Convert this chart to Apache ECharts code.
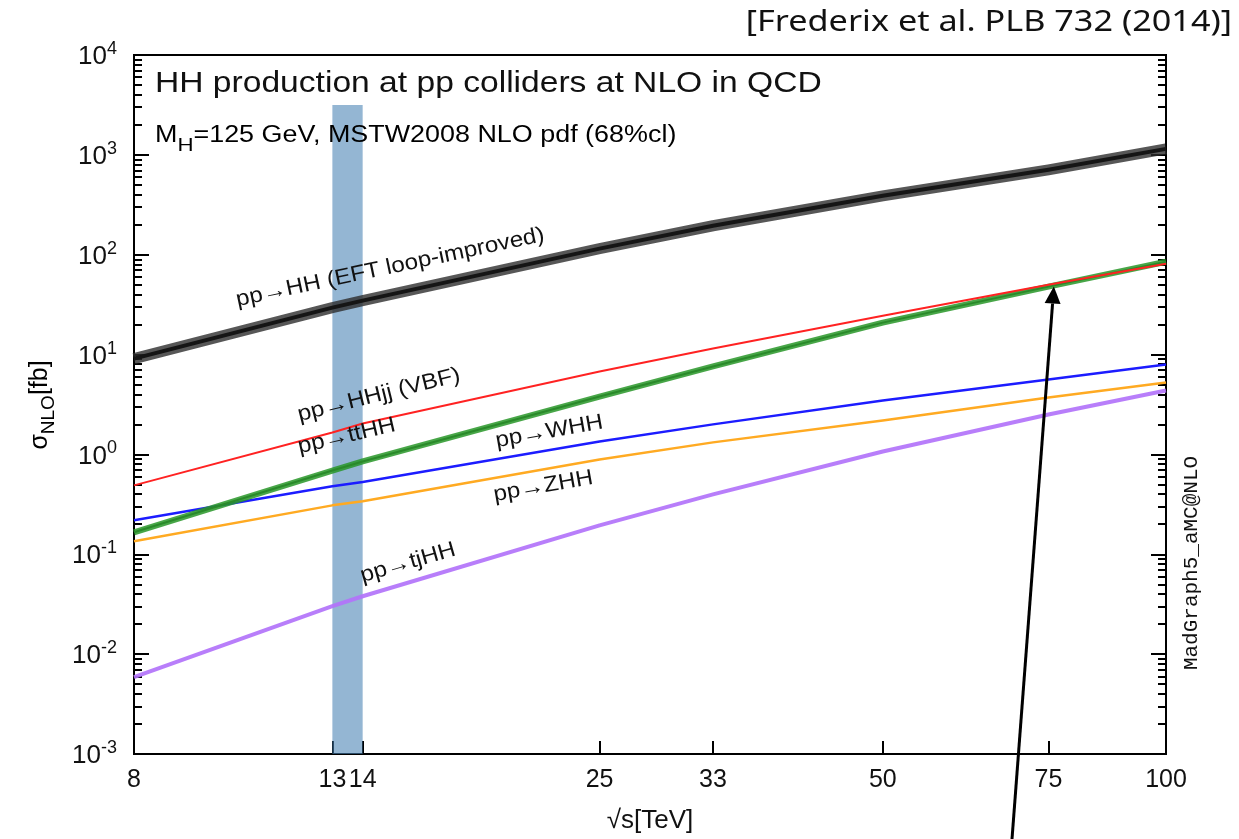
<!DOCTYPE html>
<html>
<head>
<meta charset="utf-8">
<script src="https://cdn.jsdelivr.net/npm/echarts@6/dist/echarts.min.js"></script>
<style>
  html, body { margin: 0; padding: 0; background: #fff; }
  #chart { width: 1239px; height: 839px; }
</style>
</head>
<body>
<div id="chart"></div>
<script>
// Collider energies (TeV) at which the cross sections are given
const energies = [8, 13, 14, 25, 33, 50, 75, 100];
const xTickValues = [8, 13, 14, 25, 33, 50, 75, 100];
const yMajorTicks = [0.001, 0.01, 0.1, 1, 10, 100, 1000, 10000];
const yMinorMantissas = [2, 3, 4, 5, 6, 7, 8, 9];

// NLO cross sections in fb
const sigmaHH   = [9.1, 29.5, 34.7, 115, 195, 389, 708, 1148];
const sigmaHHjj = [0.49, 1.66, 2.04, 6.76, 11.5, 24.5, 50, 81];
const sigmaTTHH = [0.166, 0.69, 0.85, 3.8, 7.6, 20.9, 47.9, 85];
const sigmaWHH  = [0.219, 0.479, 0.53, 1.35, 2.0, 3.47, 5.62, 7.94];
const sigmaZHH  = [0.135, 0.309, 0.339, 0.89, 1.32, 2.19, 3.72, 5.25];
const sigmaTJHH = [0.0059, 0.0302, 0.038, 0.195, 0.398, 1.07, 2.51, 4.37];

// LHC Run-2 energy window and its top edge
const lhcBand = [13, 14];
const lhcBandTop = 3162;

// Point the arrow at the HHjj / ttHH crossing
const crossing = [76, 48];

const FONT = '"Liberation Sans", Arial, Helvetica, sans-serif';

const yMinorTicks = [];
for (let e = -3; e < 4; e++) {
  yMinorMantissas.forEach(m => yMinorTicks.push(+(m * Math.pow(10, e)).toPrecision(3)));
}

const pairs = vals => energies.map((e, i) => [e, vals[i]]);

function curve(name, vals, color, width, z) {
  return {
    type: 'line',
    name: name,
    data: pairs(vals),
    showSymbol: false,
    smooth: false,
    silent: true,
    z: z,
    lineStyle: { color: color, width: width, join: 'round' }
  };
}

const chart = echarts.init(document.getElementById('chart'), null, { renderer: 'canvas' });

const yBase = {
  type: 'log', logBase: 10, min: 0.001, max: 10000,
  axisLine: { show: false, onZero: false },
  splitLine: { show: false },
  minorTick: { show: false }
};
const tickLine = { color: '#000', width: 2 };

const option = {
  animation: false,
  backgroundColor: '#fff',
  grid: {
    left: 134, right: 73, top: 55, bottom: 84,
    show: true, borderColor: '#000', borderWidth: 2, backgroundColor: 'transparent'
  },
  xAxis: {
    type: 'log', logBase: 10, min: 8, max: 100,
    name: '√s[TeV]',
    nameLocation: 'middle',
    nameGap: 54,
    nameTextStyle: { fontFamily: FONT, fontSize: 26, color: '#111' },
    axisLine: { show: false, onZero: false },
    splitLine: { show: false },
    minorTick: { show: false },
    axisTick: { inside: true, length: 13, customValues: xTickValues, lineStyle: tickLine },
    axisLabel: {
      customValues: xTickValues,
      hideOverlap: false,
      margin: 14,
      fontFamily: FONT, fontSize: 25, color: '#111',
      formatter: v => String(Math.round(v))
    }
  },
  yAxis: [
    Object.assign({}, yBase, {
      position: 'left',
      axisTick: { inside: true, length: 15, customValues: yMajorTicks, lineStyle: tickLine },
      axisLabel: {
        customValues: yMajorTicks,
        margin: 17,
        formatter: v => '{b|10}{e|' + Math.round(Math.log10(v)) + '}',
        rich: {
          b: { fontFamily: FONT, fontSize: 26, lineHeight: 30, verticalAlign: 'bottom', color: '#111' },
          e: { fontFamily: FONT, fontSize: 18, lineHeight: 18, verticalAlign: 'top', color: '#111' }
        }
      }
    }),
    Object.assign({}, yBase, {
      position: 'left',
      axisTick: { inside: true, length: 8, customValues: yMinorTicks, lineStyle: tickLine },
      axisLabel: { show: false }
    }),
    Object.assign({}, yBase, {
      position: 'right',
      axisTick: { inside: true, length: 15, customValues: yMajorTicks, lineStyle: tickLine },
      axisLabel: { show: false }
    }),
    Object.assign({}, yBase, {
      position: 'right',
      axisTick: { inside: true, length: 8, customValues: yMinorTicks, lineStyle: tickLine },
      axisLabel: { show: false }
    })
  ],
  series: [
    curve('pp→tjHH', sigmaTJHH, 'rgba(178,115,250,0.92)', 4, 2),
    curve('pp→ZHH', sigmaZHH, '#ffaa22', 2.5, 2),
    curve('pp→WHH', sigmaWHH, '#1c1cff', 2.5, 2),
    curve('pp→ttHH', sigmaTTHH, 'rgba(40,150,40,0.85)', 6, 2),
    curve('pp→ttHH central', sigmaTTHH, '#2a8a2a', 2, 2),
    curve('pp→HHjj (VBF)', sigmaHHjj, '#ff2222', 2, 2),
    curve('pp→HH band', sigmaHH, 'rgba(45,45,45,0.8)', 11, 2),
    curve('pp→HH', sigmaHH, '#151515', 4, 2),
    {
      type: 'line',
      name: 'LHC window',
      data: [],
      z: 10,
      silent: true,
      markArea: {
        silent: true,
        itemStyle: { color: 'rgba(70,130,180,0.58)' },
        data: [[{ xAxis: lhcBand[0], yAxis: 0.001 }, { xAxis: lhcBand[1], yAxis: lhcBandTop }]]
      }
    }
  ]
};

chart.setOption(option);

// Text annotations: anchored at the left end of the text baseline
function label(text, x, y, deg, size, sx) {
  return {
    type: 'text', x: x, y: y, rotation: deg * Math.PI / 180, scaleX: sx || 1.1, z: 3,
    silent: true,
    style: {
      text: text, x: 0, y: -0.36 * size,
      font: size + 'px ' + FONT, fill: '#111',
      align: 'left', verticalAlign: 'middle',
      textAlign: 'left', textVerticalAlign: 'middle'
    }
  };
}

const tip = chart.convertToPixel({ gridIndex: 0 }, crossing);
const tail = [1012, 839];
const dx = tip[0] - tail[0], dy = tip[1] - tail[1];
const len = Math.sqrt(dx * dx + dy * dy);
const ux = dx / len, uy = dy / len;
const headLen = 17, headHalf = 8;
const base = [tip[0] - ux * headLen, tip[1] - uy * headLen];

chart.setOption({
  graphic: [
    label('HH production at pp colliders at NLO in QCD', 155, 95, 0, 30, 1.12),
    {
      type: 'text', x: 155, y: 144, scaleX: 1.17, z: 3, silent: true,
      style: {
        text: '{a|M}{s|H}{a|=125 GeV, MSTW2008 NLO pdf (68%cl)}',
        x: 0, y: -20, align: 'left', verticalAlign: 'top', textAlign: 'left', textVerticalAlign: 'top',
        rich: {
          a: { fontFamily: FONT, fontSize: 23, lineHeight: 26, verticalAlign: 'top', color: '#111' },
          s: { fontFamily: FONT, fontSize: 19, lineHeight: 19, padding: [12, 0, 0, 0], verticalAlign: 'top', color: '#111' }
        }
      }
    },
    label('pp→HH (EFT loop-improved)', 238, 308, 12, 22),
    label('pp→HHjj (VBF)', 300, 423, 14, 22),
    label('pp→ttHH', 300, 455, 13, 22),
    label('pp→WHH', 497, 449, 10, 22),
    label('pp→ZHH', 495, 503, 10, 22),
    label('pp→tjHH', 363, 584, 16, 22),
    {
      type: 'text', x: 42, y: 405, rotation: Math.PI / 2, z: 3, silent: true,
      style: {
        text: '{a|σ}{s|NLO}{a|[fb]}',
        align: 'center', verticalAlign: 'middle', textAlign: 'center', textVerticalAlign: 'middle',
        rich: {
          a: { fontFamily: FONT, fontSize: 25, lineHeight: 28, verticalAlign: 'top', color: '#111' },
          s: { fontFamily: FONT, fontSize: 19, lineHeight: 19, padding: [11, 0, 0, 0], verticalAlign: 'top', color: '#111' }
        }
      }
    },
    {
      type: 'text', x: 1191, y: 563, rotation: Math.PI / 2, z: 3, silent: true,
      style: {
        text: 'MadGraph5_aMC@NLO',
        font: '21px "Liberation Mono", "DejaVu Sans Mono", monospace', fill: '#111',
        align: 'center', verticalAlign: 'middle', textAlign: 'center', textVerticalAlign: 'middle'
      }
    },
    {
      type: 'text', x: 1232, y: 23, scaleX: 1.18, z: 3, silent: true,
      style: {
        text: '[Frederix et al. PLB 732 (2014)]',
        font: '29px "Noto Sans", "Open Sans", sans-serif', fill: '#111',
        align: 'right', verticalAlign: 'middle', textAlign: 'right', textVerticalAlign: 'middle'
      }
    },
    {
      type: 'line', z: 20, silent: true,
      shape: { x1: tail[0], y1: tail[1], x2: base[0], y2: base[1] },
      style: { stroke: '#000', lineWidth: 3 }
    },
    {
      type: 'polygon', z: 20, silent: true,
      shape: {
        points: [
          tip,
          [base[0] - uy * headHalf, base[1] + ux * headHalf],
          [base[0] + uy * headHalf, base[1] - ux * headHalf]
        ]
      },
      style: { fill: '#000' }
    }
  ]
});
</script>
</body>
</html>
